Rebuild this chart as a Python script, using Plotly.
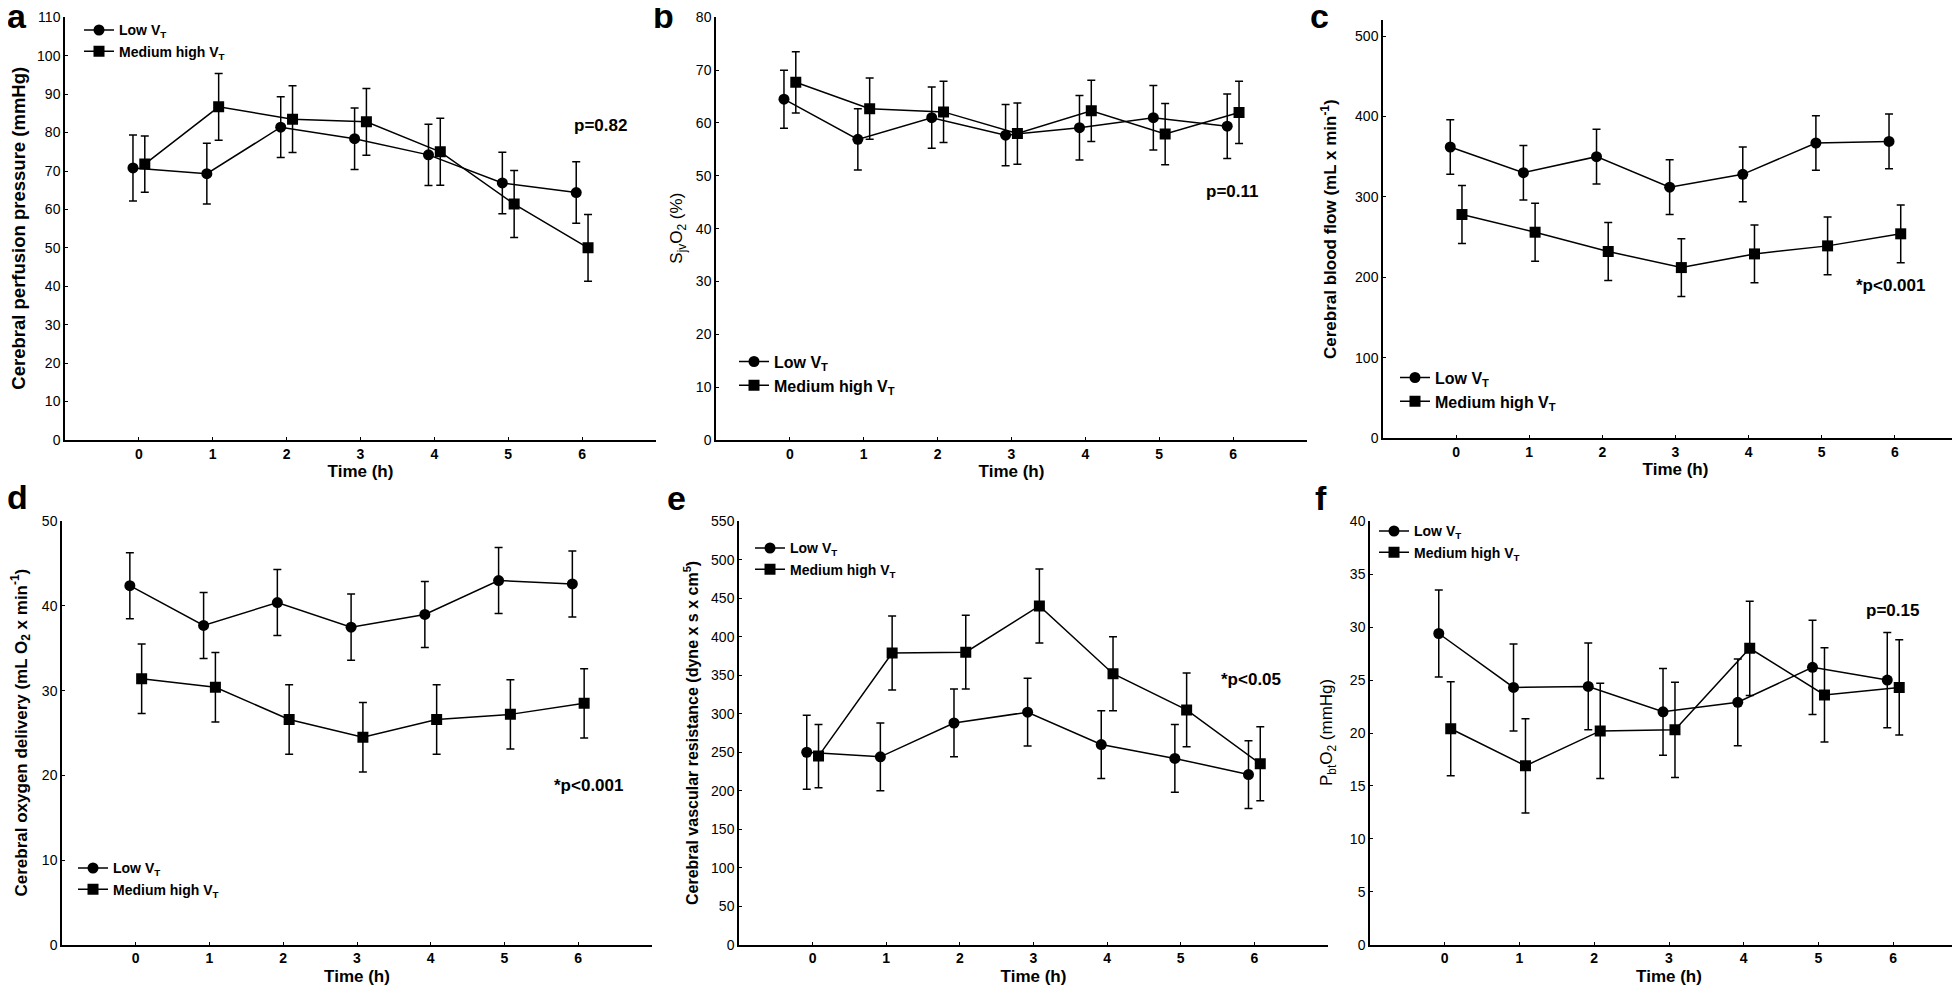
import plotly.graph_objects as go

W, H = 1960, 988
NARROW = "Liberation Sans Narrow, Arial Narrow, Liberation Sans, Arial"
SANS = "Liberation Sans, Arial"

HOURS = [0, 1, 2, 3, 4, 5, 6]
SERIES = ["Low V<sub>T</sub>", "Medium high V<sub>T</sub>"]

# a: cerebral perfusion pressure (mmHg)
CPP_LOW = [70.8, 69.3, 81.4, 78.4, 74.2, 66.9, 64.4]
CPP_LOW_ERR = [8.6, 7.9, 7.9, 8.0, 8.0, 8.0, 8.0]
CPP_MED = [71.8, 86.7, 83.5, 82.8, 75.0, 61.4, 50.0]
CPP_MED_ERR = [7.3, 8.7, 8.7, 8.7, 8.7, 8.7, 8.7]

# b: SjvO2 (%)
SJV_LOW = [64.5, 56.9, 61.0, 57.7, 59.1, 61.0, 59.4]
SJV_LOW_ERR = [5.5, 5.8, 5.8, 5.8, 6.1, 6.1, 6.1]
SJV_MED = [67.7, 62.7, 62.1, 58.0, 62.3, 57.9, 62.0]
SJV_MED_ERR = [5.8, 5.8, 5.8, 5.8, 5.8, 5.8, 5.9]

# c: cerebral blood flow (mL x min-1)
CBF_LOW = [362, 330, 350, 312, 328, 367, 369]
CBF_LOW_ERR = [34, 34, 34, 34, 34, 34, 34]
CBF_MED = [278, 256, 232, 212, 229, 239, 254]
CBF_MED_ERR = [36, 36, 36, 36, 36, 36, 36]

# d: cerebral oxygen delivery (mL O2 x min-1)
DO2_LOW = [42.4, 37.7, 40.4, 37.5, 39.0, 43.0, 42.6]
DO2_LOW_ERR = [3.9, 3.9, 3.9, 3.9, 3.9, 3.9, 3.9]
DO2_MED = [31.4, 30.4, 26.6, 24.5, 26.6, 27.2, 28.5]
DO2_MED_ERR = [4.1, 4.1, 4.1, 4.1, 4.1, 4.1, 4.1]

# e: cerebral vascular resistance (dyne x s x cm5)
CVR_LOW = [250, 244, 288, 302, 260, 242, 221]
CVR_LOW_ERR = [48, 44, 44, 44, 44, 44, 44]
CVR_MED = [245, 379, 380, 440, 352, 305, 235]
CVR_MED_ERR = [41, 48, 48, 48, 48, 48, 48]

# f: PbtO2 (mmHg)
PBT_LOW = [29.4, 24.3, 24.4, 22.0, 22.9, 26.2, 25.0]
PBT_LOW_ERR = [4.1, 4.1, 4.1, 4.1, 4.1, 4.45, 4.5]
PBT_MED = [20.4, 16.9, 20.2, 20.3, 28.0, 23.6, 24.3]
PBT_MED_ERR = [4.45, 4.45, 4.5, 4.5, 4.45, 4.45, 4.5]


def fx(px):
    return px / W


def fy(py):
    return 1 - py / H


# pixel layout of each panel: axis box, label spots, legend (text start, first row centre)
panels = [
    dict(letter="a", low=CPP_LOW, low_err=CPP_LOW_ERR, med=CPP_MED, med_err=CPP_MED_ERR,
         xd=(57, 648), yd=(9.3, 432), yr=110, dtick=10,
         ytitle="<b>Cerebral perfusion pressure (mmHg)</b>", ytx=11, tsize=18.5,
         p="p=0.82", pxy=(592, 118), lxy=(121, 29), lfont=14, letter_xy=(9, 8)),
    dict(letter="b", low=SJV_LOW, low_err=SJV_LOW_ERR, med=SJV_MED, med_err=SJV_MED_ERR,
         xd=(708, 1299), yd=(9.3, 432), yr=80, dtick=10,
         ytitle="S<sub>jv</sub>O<sub>2</sub> (%)", ytx=670, tsize=17,
         p="p=0.11", pxy=(1224, 183), lxy=(776, 361), lfont=16, letter_xy=(655, 8)),
    dict(letter="c", low=CBF_LOW, low_err=CBF_LOW_ERR, med=CBF_MED, med_err=CBF_MED_ERR,
         xd=(1375, 1960), yd=(12, 430), yr=520, dtick=100,
         ytitle="<b>Cerebral blood flow (mL x min<sup>-1</sup>)</b>", ytx=1321, tsize=17,
         p="*p<0.001", pxy=(1882, 278), lxy=(1437, 377), lfont=16, letter_xy=(1311, 8)),
    dict(letter="d", low=DO2_LOW, low_err=DO2_LOW_ERR, med=DO2_MED, med_err=DO2_MED_ERR,
         xd=(54, 644), yd=(513.3, 936.7), yr=50, dtick=10,
         ytitle="<b>Cerebral oxygen delivery (mL O<sub>2</sub> x min<sup>-1</sup>)</b>", ytx=12.5,
         tsize=17, p="*p<0.001", pxy=(580, 777), lxy=(115, 867), lfont=14,
         letter_xy=(9, 489)),
    dict(letter="e", low=CVR_LOW, low_err=CVR_LOW_ERR, med=CVR_MED, med_err=CVR_MED_ERR,
         xd=(731, 1320), yd=(513.3, 936.7), yr=550, dtick=50,
         ytitle="<b>Cerebral vascular resistance (dyne x s x cm<sup>5</sup>)</b>", ytx=683,
         tsize=16, p="*p<0.05", pxy=(1243, 671), lxy=(792, 547), lfont=14,
         letter_xy=(668, 490)),
    dict(letter="f", low=PBT_LOW, low_err=PBT_LOW_ERR, med=PBT_MED, med_err=PBT_MED_ERR,
         xd=(1362, 1960), yd=(513.3, 936.7), yr=40, dtick=5,
         ytitle="P<sub>bt</sub>O<sub>2</sub> (mmHg)", ytx=1320, tsize=17,
         p="p=0.15", pxy=(1884, 602), lxy=(1416, 530), lfont=14, letter_xy=(1313, 490)),
]

fig = go.Figure()
annotations = []
layout = {}


def note(text, x, y, font, angle=0):
    return dict(text=text, textangle=angle, xref="paper", yref="paper",
                x=fx(x), y=fy(y), xanchor="center", yanchor="middle",
                showarrow=False, font=font)


for i, pn in enumerate(panels, start=1):
    sfx = "" if i == 1 else str(i)
    xa, ya = "x" + sfx, "y" + sfx
    leg = "legend" + sfx

    for name, vals, errs, sym, shift in [
        (SERIES[0], pn["low"], pn["low_err"], "circle", -0.08),
        (SERIES[1], pn["med"], pn["med_err"], "square", 0.08),
    ]:
        fig.add_trace(go.Scatter(
            x=[t + shift for t in HOURS], y=vals, name=name,
            mode="lines+markers", xaxis=xa, yaxis=ya, legend=leg,
            line=dict(color="black", width=1.5),
            marker=dict(symbol=sym, size=11, color="black"),
            error_y=dict(type="data", array=errs, color="black", thickness=1.5, width=4),
        ))

    layout["xaxis" + sfx] = dict(
        domain=[fx(pn["xd"][0]), fx(pn["xd"][1])], anchor=ya,
        range=[-1, 7], tickvals=HOURS, showline=True, linecolor="black", linewidth=1.5,
        ticks="inside", ticklen=3, tickcolor="black", showgrid=False, zeroline=False,
        tickfont=dict(family=NARROW, size=14, color="black", weight="bold"),
        title=dict(text="Time (h)", standoff=5,
                   font=dict(family=NARROW, size=17, color="black", weight="bold")),
        automargin=False,
    )
    layout["yaxis" + sfx] = dict(
        domain=[fy(pn["yd"][1]), fy(pn["yd"][0])], anchor=xa,
        range=[0, pn["yr"]], dtick=pn["dtick"], showline=True, linecolor="black",
        linewidth=1.5, ticks="inside", ticklen=3, tickcolor="black", showgrid=False,
        zeroline=False, tickfont=dict(family=NARROW, size=14, color="black"),
        automargin=False,
    )
    layout[leg] = dict(
        x=fx(pn["lxy"][0] - 50), y=fy(pn["lxy"][1] - 10 - pn["lfont"] * 0.9),
        xanchor="left", yanchor="top",
        bgcolor="rgba(0,0,0,0)", itemwidth=30, tracegroupgap=0,
        font=dict(family=NARROW, size=pn["lfont"], color="black", weight="bold"),
    )

    annotations.append(note(pn["ytitle"], pn["ytx"], sum(pn["yd"]) / 2,
                            dict(family=SANS, size=pn["tsize"], color="black"), angle=-90))
    annotations.append(note(pn["p"], pn["pxy"][0], pn["pxy"][1],
                            dict(family=NARROW, size=17, color="black", weight="bold")))
    annotations.append(note(pn["letter"], pn["letter_xy"][0], pn["letter_xy"][1],
                            dict(family=SANS, size=34, color="black", weight="bold")))

fig.update_layout(
    width=W, height=H, margin=dict(l=0, r=0, t=0, b=0),
    paper_bgcolor="white", plot_bgcolor="white",
    annotations=annotations, **layout,
)

fig.write_html("out.html")
